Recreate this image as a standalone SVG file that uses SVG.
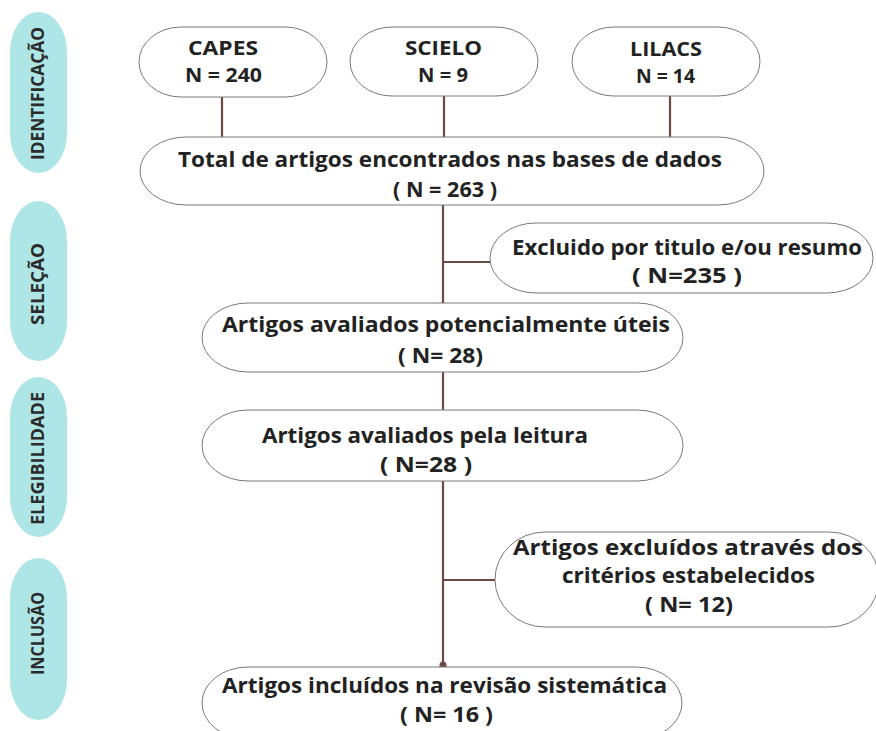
<svg xmlns="http://www.w3.org/2000/svg" width="876" height="731" viewBox="0 0 876 731">
<style>
.phase{fill:#aee6e7;stroke:none}
.vl{font-family:"Open Sans","Liberation Sans",sans-serif;font-weight:700;font-size:17px;fill:#2b2b2b;text-anchor:middle}
.box{fill:#ffffff;stroke:#7a7a7a;stroke-width:1}
.t{font-family:"Open Sans","Liberation Sans",sans-serif;font-weight:700;font-size:22px;fill:#222222}
.s{font-size:19px}
.c{stroke:#6b4a45;stroke-width:2.2;fill:none}
</style>
<rect width="876" height="731" fill="#ffffff"/>
<g id="phases">
<g id="phase-identificacao"><rect class="phase" x="10" y="12" width="57" height="161" rx="28.5" ry="40"/><text class="vl" transform="translate(44,93.5) rotate(-90)" textLength="133" lengthAdjust="spacingAndGlyphs">IDENTIFICAÇÃO</text></g>
<g id="phase-selecao"><rect class="phase" x="10" y="201" width="57" height="160" rx="28.5" ry="40"/><text class="vl" transform="translate(44,284) rotate(-90)" textLength="82" lengthAdjust="spacingAndGlyphs">SELEÇÃO</text></g>
<g id="phase-elegibilidade"><rect class="phase" x="10" y="377" width="57" height="160" rx="28.5" ry="40"/><text class="vl" transform="translate(44,458.5) rotate(-90)" textLength="133" lengthAdjust="spacingAndGlyphs">ELEGIBILIDADE</text></g>
<g id="phase-inclusao"><rect class="phase" x="10" y="558" width="57" height="162" rx="28.5" ry="40"/><text class="vl" transform="translate(44,633.5) rotate(-90)" textLength="83" lengthAdjust="spacingAndGlyphs">INCLUSÃO</text></g>
</g>
<g id="connectors">
<line class="c" x1="222" y1="97" x2="222" y2="137"/>
<line class="c" x1="444" y1="96" x2="444" y2="137"/>
<line class="c" x1="670" y1="96" x2="670" y2="137"/>
<line class="c" x1="443" y1="205" x2="443" y2="303"/>
<line class="c" x1="443" y1="262" x2="490" y2="262"/>
<line class="c" x1="443" y1="372" x2="443" y2="410"/>
<line class="c" x1="443" y1="481" x2="443" y2="667"/>
<line class="c" x1="443" y1="580" x2="495" y2="580"/>
<path d="M437 667 Q443 667 443 660 Q443 667 449 667 Z" fill="#6b4a45"/>
<circle cx="443" cy="665" r="3.5" fill="#6b4a45"/>
</g>
<g id="node-capes"><rect class="box" x="139" y="27" width="188" height="70" rx="42" ry="35"/>
<text class="t s" x="188" y="55" textLength="70" lengthAdjust="spacingAndGlyphs">CAPES</text>
<text class="t s" x="185" y="82" textLength="77" lengthAdjust="spacingAndGlyphs">N = 240</text></g>
<g id="node-scielo"><rect class="box" x="350" y="27" width="188" height="69" rx="42" ry="34.5"/>
<text class="t s" x="405" y="55" textLength="77" lengthAdjust="spacingAndGlyphs">SCIELO</text>
<text class="t s" x="418" y="82" textLength="50" lengthAdjust="spacingAndGlyphs">N = 9</text></g>
<g id="node-lilacs"><rect class="box" x="572" y="27" width="188" height="69" rx="42" ry="34.5"/>
<text class="t s" x="630" y="56" textLength="72" lengthAdjust="spacingAndGlyphs">LILACS</text>
<text class="t s" x="636" y="83" textLength="59" lengthAdjust="spacingAndGlyphs">N = 14</text></g>
<g id="node-total"><rect class="box" x="140" y="137" width="624" height="68" rx="46" ry="34"/>
<text class="t" x="178" y="167" textLength="544" lengthAdjust="spacingAndGlyphs">Total de artigos encontrados nas bases de dados</text>
<text class="t" x="393" y="197" textLength="104" lengthAdjust="spacingAndGlyphs">( N = 263 )</text></g>
<g id="node-excluido"><rect class="box" x="490" y="223" width="383" height="70" rx="46" ry="35"/>
<text class="t" x="512" y="255" textLength="350" lengthAdjust="spacingAndGlyphs">Excluido por titulo e/ou resumo</text>
<text class="t" x="632" y="283" textLength="110" lengthAdjust="spacingAndGlyphs">( N=235 )</text></g>
<g id="node-potencialmente"><rect class="box" x="202" y="303" width="481" height="69" rx="46" ry="34.5"/>
<text class="t" x="222" y="332" textLength="448" lengthAdjust="spacingAndGlyphs">Artigos avaliados potencialmente úteis</text>
<text class="t" x="398" y="363" textLength="85" lengthAdjust="spacingAndGlyphs">( N= 28)</text></g>
<g id="node-leitura"><rect class="box" x="202" y="410" width="481" height="71" rx="46" ry="35.5"/>
<text class="t" x="262" y="443" textLength="326" lengthAdjust="spacingAndGlyphs">Artigos avaliados pela leitura</text>
<text class="t" x="380" y="472" textLength="92" lengthAdjust="spacingAndGlyphs">( N=28 )</text></g>
<g id="node-excluidos"><rect class="box" x="495" y="532" width="384" height="95" rx="50" ry="47.5"/>
<text class="t" x="513" y="555" textLength="350" lengthAdjust="spacingAndGlyphs">Artigos excluídos através dos</text>
<text class="t" x="562" y="583" textLength="253" lengthAdjust="spacingAndGlyphs">critérios estabelecidos</text>
<text class="t" x="645" y="612" textLength="88" lengthAdjust="spacingAndGlyphs">( N= 12)</text></g>
<g id="node-incluidos"><rect class="box" x="202" y="667" width="480" height="72" rx="46" ry="36"/>
<text class="t" x="222" y="693" textLength="445" lengthAdjust="spacingAndGlyphs">Artigos incluídos na revisão sistemática</text>
<text class="t" x="400" y="722" textLength="93" lengthAdjust="spacingAndGlyphs">( N= 16 )</text></g>
</svg>
